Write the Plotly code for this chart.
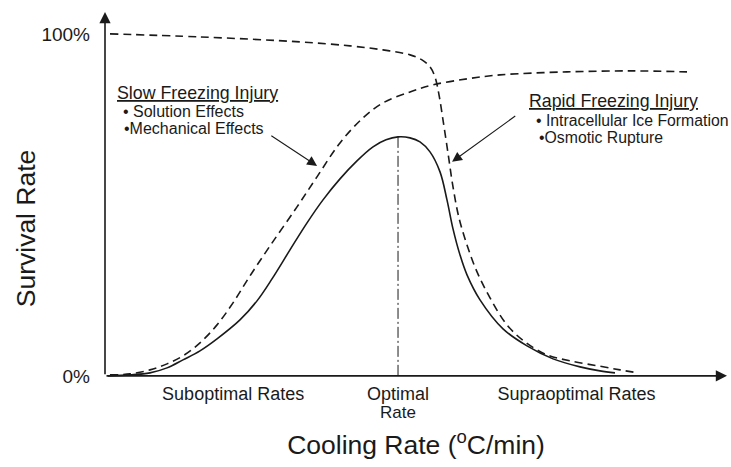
import plotly.graph_objects as go
import numpy as np

# ---- data (cooling rate in arbitrary units 0-100, survival in %) ----
survival_x = [0.48, 4.02, 7.23, 9.97, 12.54, 15.27, 18.01, 21.70, 24.44, 26.85, 29.74, 32.48, 35.05,
              37.78, 40.51, 43.09, 45.18, 47.11, 49.04, 50.64, 52.25, 53.86, 54.98, 55.95, 57.07,
              58.20, 60.29, 63.99, 67.85, 72.03, 76.37, 79.58, 81.99]
survival_y = [0.0, 0.29, 0.88, 2.34, 4.68, 7.31, 10.82, 16.37, 21.93, 28.36, 36.84, 44.74, 51.46,
              57.60, 62.87, 66.96, 69.01, 69.88, 69.59, 68.42, 65.50, 59.65, 51.46, 42.98, 35.38,
              29.53, 22.22, 13.74, 8.77, 4.97, 2.63, 1.46, 0.88]

slow_x = [0.80, 4.02, 7.23, 9.97, 12.54, 15.27, 18.01, 20.58, 23.31, 26.53, 30.87, 34.08, 37.78,
          41.48, 44.69, 49.04, 52.73, 58.20, 63.50, 74.28, 84.89, 93.57]
slow_y = [0.29, 0.58, 1.75, 3.51, 5.85, 9.65, 14.91, 21.35, 29.24, 38.01, 49.42, 58.19, 68.13,
          75.44, 79.82, 83.04, 85.09, 86.84, 88.01, 88.89, 89.18, 88.89]

rapid_x = [0.80, 15.27, 31.35, 39.39, 44.69, 49.04, 50.96, 52.25, 53.05, 53.70, 54.34, 55.14, 55.95,
           56.91, 58.20, 59.81, 61.90, 64.63, 67.52, 71.06, 74.76, 79.26, 82.80, 85.69]
rapid_y = [100.0, 99.12, 97.66, 96.49, 95.32, 93.86, 92.40, 90.35, 87.43, 82.16, 74.85, 65.20, 55.26,
           46.20, 38.30, 30.41, 22.81, 14.91, 9.94, 6.14, 4.39, 2.92, 1.75, 0.88]

rate_tick_text = ["Suboptimal Rates", "Optimal", "Supraoptimal Rates"]
suboptimal_center = 20.6
supraoptimal_center = 75.8
survival_tick_vals = [0, 100]
survival_tick_text = ["0%", "100%"]

FONT = "Liberation Sans, Arial, Helvetica, sans-serif"
INK = "#1a1a1a"

opt_idx = int(np.argmax(survival_y))
opt_x = survival_x[opt_idx]
opt_y = survival_y[opt_idx]
rate_tick_vals = [suboptimal_center, opt_x, supraoptimal_center]

dash_line = dict(color=INK, width=1.6, dash="8px,5px", shape="spline", smoothing=1.0)

fig = go.Figure()
fig.add_trace(go.Scatter(x=rapid_x, y=rapid_y, mode="lines", line=dash_line, hoverinfo="skip"))
fig.add_trace(go.Scatter(x=slow_x, y=slow_y, mode="lines", line=dash_line, hoverinfo="skip"))
fig.add_trace(go.Scatter(x=survival_x, y=survival_y, mode="lines",
                         line=dict(color=INK, width=1.6, shape="spline", smoothing=1.0),
                         hoverinfo="skip"))
fig.add_trace(go.Scatter(x=[opt_x, opt_x], y=[0, opt_y], mode="lines",
                         line=dict(color=INK, width=1, dash="11px,3px,2px,3px"),
                         hoverinfo="skip"))

annotations = []
# axis lines with arrowheads
annotations.append(dict(x=0, y=106.4, ax=0, ay=0, xref="x", yref="y", axref="x", ayref="y",
                        text="", showarrow=True, arrowhead=2, arrowsize=1.4, arrowwidth=1.6,
                        arrowcolor=INK, standoff=0, startstandoff=0))
annotations.append(dict(x=100, y=0, ax=0, ay=0, xref="x", yref="y", axref="x", ayref="y",
                        text="", showarrow=True, arrowhead=2, arrowsize=1.4, arrowwidth=1.6,
                        arrowcolor=INK, standoff=0, startstandoff=0))
# pointer arrows
annotations.append(dict(x=34.1, y=61.4, ax=26.5, ay=70.5, xref="x", yref="y", axref="x", ayref="y",
                        text="", showarrow=True, arrowhead=2, arrowsize=1.8, arrowwidth=1.1,
                        arrowcolor=INK, standoff=0))
annotations.append(dict(x=55.8, y=62.6, ax=66.2, ay=76.3, xref="x", yref="y", axref="x", ayref="y",
                        text="", showarrow=True, arrowhead=2, arrowsize=1.8, arrowwidth=1.1,
                        arrowcolor=INK, standoff=0))

def label(text, x, y, size):
    return dict(x=x, y=y, xref="x", yref="y", text=text, showarrow=False,
                xanchor="left", yanchor="middle", font=dict(family=FONT, size=size, color=INK))

annotations += [
    label("<u>Slow Freezing Injury</u>", 1.6, 82.8, 17.8),
    label("• Solution Effects", 2.6, 77.4, 16),
    label("•Mechanical Effects", 2.8, 72.3, 16),
    label("<u>Rapid Freezing Injury</u>", 67.9, 80.4, 17.8),
    label("• Intracellular Ice Formation", 69.0, 74.8, 15.8),
    label("•Osmotic Rupture", 69.4, 69.6, 15.8),
]
# second line of the optimal-rate tick label
annotations.append(dict(x=opt_x, y=-0.085, xref="x", yref="paper", text="Rate", showarrow=False,
                        xanchor="center", yanchor="middle",
                        font=dict(family=FONT, size=17, color=INK)))
# y-axis title (placed lower than plot centre, as in the original)
annotations.append(dict(x=-0.128, y=0.415, xref="paper", yref="paper", text="Survival Rate",
                        showarrow=False, textangle=-90, xanchor="center", yanchor="middle",
                        font=dict(family=FONT, size=26.5, color=INK)))

fig.update_layout(
    width=731, height=467,
    margin=dict(l=105, r=4, t=12, b=86),
    paper_bgcolor="white", plot_bgcolor="white",
    showlegend=False,
    font=dict(family=FONT, color=INK),
    annotations=annotations,
    xaxis=dict(range=[0, 100], showgrid=False, zeroline=False, showline=False, automargin=False,
               tickvals=rate_tick_vals, ticktext=rate_tick_text, ticks="",
               tickfont=dict(size=18, family=FONT, color=INK),
               title=dict(text="Cooling Rate (<sup>o</sup>C/min)", standoff=32,
                          font=dict(size=26.5, family=FONT, color=INK)),
               fixedrange=True),
    yaxis=dict(range=[-1.5, 106.4], showgrid=False, zeroline=False, showline=False, automargin=False,
               tickvals=survival_tick_vals, ticktext=survival_tick_text, ticks="",
               ticklabelstandoff=14,
               tickfont=dict(size=19, family=FONT, color=INK),
               fixedrange=True),
)

fig.write_html("out.html", config={"displayModeBar": False},
               post_script="document.body.style.margin='0px';")
